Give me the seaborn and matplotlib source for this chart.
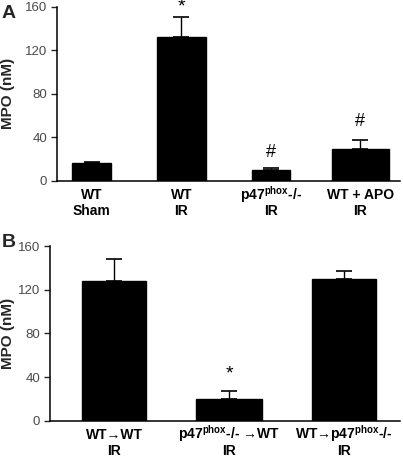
import matplotlib
matplotlib.use("Agg")

import numpy as np
import pandas as pd
import matplotlib.pyplot as plt
import matplotlib.transforms as mtransforms
import seaborn as sns

# Panel A: MPO (nM) per group, mean and upper error
GROUPS_A = ["WT\nSham", "WT\nIR", "p47$^{phox}$-/-\nIR", "WT + APO\nIR"]
MPO_A = [16.5, 132.5, 10.5, 29.5]
ERR_A = [1.2, 18.0, 1.5, 8.0]
MARKS_A = ["", "*", "#", "#"]

# Panel B: bone marrow chimeras
GROUPS_B = ["WT→WT\nIR", "p47$^{phox}$-/- →WT\nIR", "WT→p47$^{phox}$-/-\nIR"]
MPO_B = [128.0, 20.0, 130.0]
ERR_B = [20.5, 7.5, 7.0]
MARKS_B = ["", "*", ""]

Y_TICKS = [0, 40, 80, 120, 160]

sns.set_theme(style="ticks")
plt.rcParams["font.family"] = ["Liberation Sans", "DejaVu Sans"]
plt.rcParams["mathtext.fontset"] = "custom"
plt.rcParams["mathtext.rm"] = "Liberation Sans"
plt.rcParams["mathtext.bf"] = "Liberation Sans:bold"
plt.rcParams["mathtext.default"] = "bf"

TICK_GREY = "#4a4a4a"


def draw_panel(ax, groups, values, errs, marks, widths, mark_offsets, xlim, label_x):
    df = pd.DataFrame({"group": groups, "mpo": values})
    sns.barplot(data=df, x="group", y="mpo", order=groups, color="black",
                saturation=1, errorbar=None, edgecolor="black", linewidth=1,
                width=0.5, ax=ax)
    for patch, w in zip(ax.patches, widths):
        cx = patch.get_x() + patch.get_width() / 2
        patch.set_width(w)
        patch.set_x(cx - w / 2)

    pos = np.arange(len(groups))
    ax.errorbar(pos, values, yerr=[np.zeros(len(errs)), errs], fmt="none",
                ecolor="black", elinewidth=1, capsize=6, capthick=1.2, zorder=1)

    for i, (m, v, e, off) in enumerate(zip(marks, values, errs, mark_offsets)):
        if m:
            ax.text(i, v + e + off, m, ha="center", va="center",
                    fontsize=14 if m == "*" else 13, color="black", clip_on=False)

    ax.set_ylim(0, 160)
    ax.set_yticks(Y_TICKS)
    ax.set_xlim(*xlim)
    ax.set_xlabel("")
    ax.set_ylabel("MPO (nM)", fontsize=11, fontweight="bold")
    ax.yaxis.set_label_coords(label_x, 0.5)
    ax.tick_params(axis="y", direction="out", length=4, width=1, labelsize=9.5,
                   labelcolor=TICK_GREY, pad=3)
    ax.set_xticks(pos)
    ax.set_xticklabels([])
    ax.tick_params(axis="x", length=0)

    # two-line category labels, each line on its own baseline
    base = mtransforms.blended_transform_factory(ax.transData, ax.transAxes)
    for i, g in enumerate(groups):
        for line, drop in zip(g.split("\n"), (13.3, 24.8)):
            tr = base + mtransforms.ScaledTranslation(0, -drop / 72, ax.figure.dpi_scale_trans)
            ax.text(i, 0, line, transform=tr, ha="center", va="baseline",
                    fontsize=10, fontweight="bold", color="black", clip_on=False)

    sns.despine(ax=ax)
    for side in ("left", "bottom"):
        ax.spines[side].set_linewidth(1.1)
        ax.spines[side].set_color("black")


fig = plt.figure(figsize=(4.03, 4.57), dpi=100)
ax_a = fig.add_axes([0.1414, 0.604, 0.852, 0.381])
ax_b = fig.add_axes([0.124, 0.0795, 0.869, 0.382])

draw_panel(ax_a, GROUPS_A, MPO_A, ERR_A, MARKS_A,
           widths=[0.43, 0.55, 0.43, 0.63], mark_offsets=[0, 9, 14, 17],
           xlim=(-0.388, 3.447), label_x=-0.122)
draw_panel(ax_b, GROUPS_B, MPO_B, ERR_B, MARKS_B,
           widths=[0.56, 0.57, 0.56], mark_offsets=[0, 15, 0],
           xlim=(-0.56, 2.49), label_x=-0.10)

fig.text(0.005, 0.99, "A", fontsize=14, fontweight="bold", va="top", ha="left")
fig.text(0.005, 0.488, "B", fontsize=14, fontweight="bold", va="top", ha="left")

fig.savefig("out.png", dpi=100)
